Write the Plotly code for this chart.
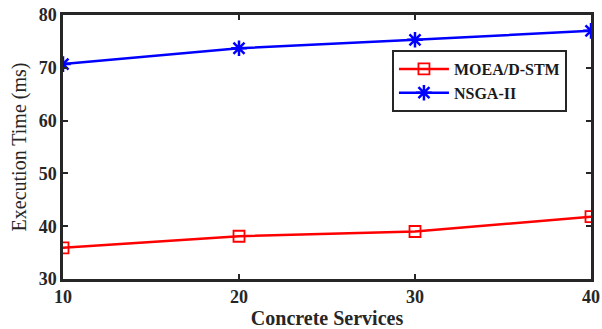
import plotly.graph_objects as go

services = [10, 20, 30, 40]
moea_stm = [35.9, 38.1, 39.0, 41.8]
nsga2 = [70.7, 73.7, 75.3, 77.0]

fig = go.Figure()
fig.add_trace(go.Scatter(x=services, y=moea_stm, mode="lines+markers", name="MOEA/D-STM",
                         line=dict(color="#ff0000", width=2.5),
                         marker=dict(symbol="square-open", size=11, color="#ff0000", line=dict(width=1.8))))
fig.add_trace(go.Scatter(x=services, y=nsga2, mode="lines+markers", name="NSGA-II",
                         line=dict(color="#0000ff", width=2.5),
                         marker=dict(symbol="asterisk-open", size=13, color="#0000ff", line=dict(width=2.5, color="#0000ff"))))

tickfont = dict(family="Liberation Serif", size=18, weight="bold", color="#262626")
fig.update_layout(
    width=602, height=329,
    margin=dict(l=63, r=11, t=15, b=50),
    paper_bgcolor="white", plot_bgcolor="white",
    font=dict(family="Liberation Serif", size=17, color="#262626"),
    showlegend=True,
    legend=dict(x=0.623, y=0.75, xanchor="left", yanchor="middle",
                bgcolor="white", bordercolor="#262626", borderwidth=2,
                font=dict(family="Liberation Serif", size=16, color="#1a1a1a", weight="bold"),
                tracegroupgap=0, itemwidth=50),
    xaxis=dict(range=[10, 40], tickvals=[10, 20, 30, 40], ticks="inside", ticklen=5, tickwidth=2,
               tickcolor="#262626", showline=True, linecolor="#262626", linewidth=2.5, mirror="ticks",
               showgrid=False, zeroline=False, automargin=False, ticklabeloverflow="allow",
               tickfont=tickfont,
               title=dict(text="<b>Concrete Services</b>", standoff=5,
                          font=dict(family="Liberation Serif", size=20, color="#262626"))),
    yaxis=dict(range=[30, 80], tickvals=[30, 40, 50, 60, 70, 80], ticks="inside", ticklen=5, tickwidth=2,
               tickcolor="#262626", showline=True, linecolor="#262626", linewidth=2.5, mirror="ticks",
               showgrid=False, zeroline=False, automargin=False, ticklabeloverflow="allow",
               tickfont=tickfont,
               title=dict(text="Execution Time (ms)", standoff=7,
                          font=dict(family="Liberation Serif", size=20, color="#262626"))),
)
# remove the browser's default 8px body margin so the figure sits at the page origin
fig.write_html("out.html", config={"displayModeBar": False},
               post_script="document.body.style.margin='0';")
